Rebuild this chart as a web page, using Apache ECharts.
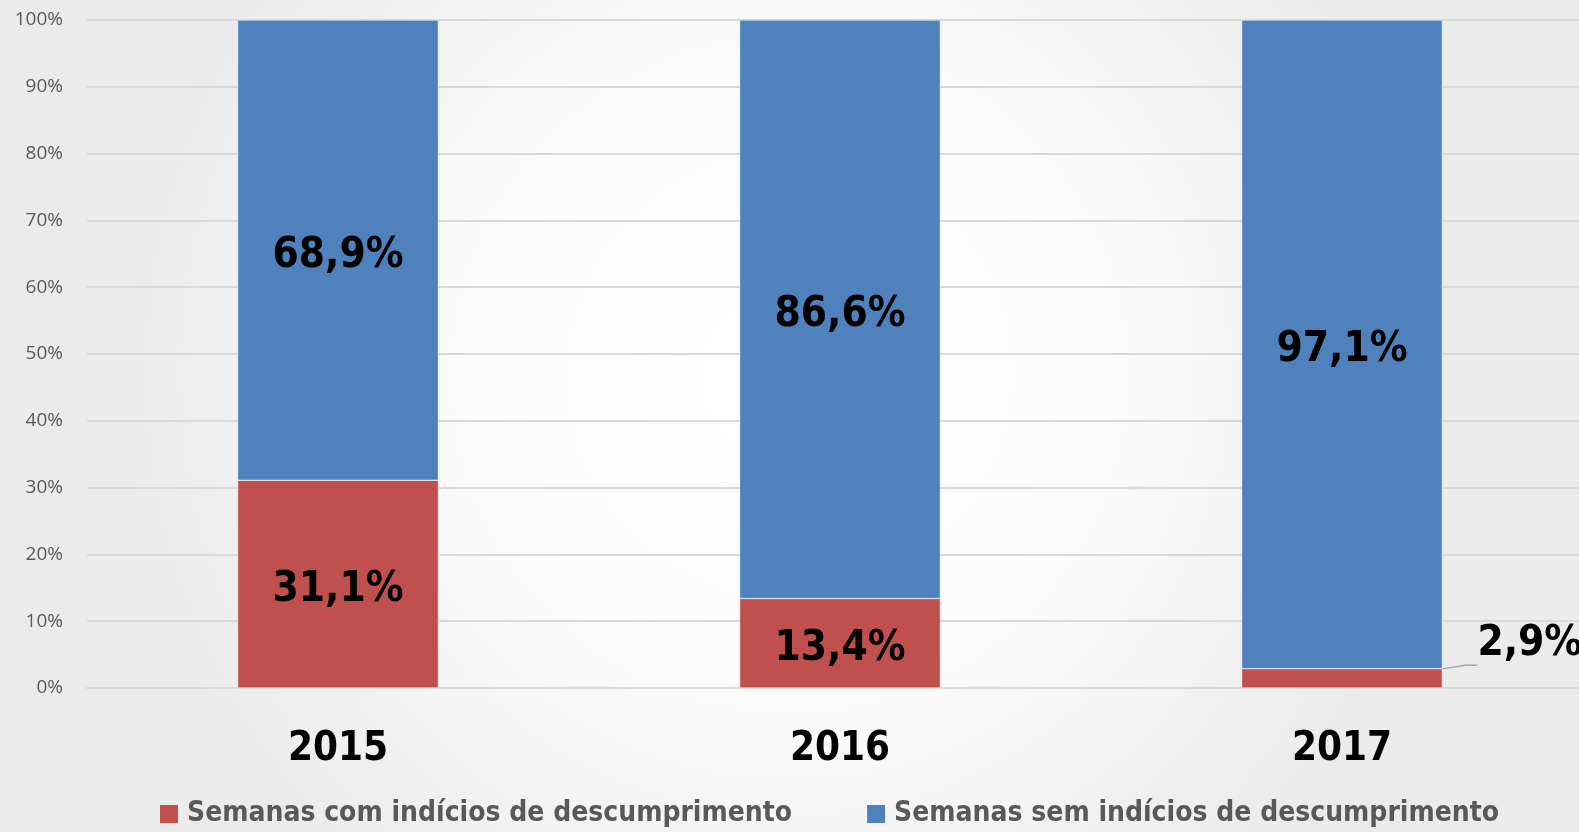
<!DOCTYPE html>
<html>
<head>
<meta charset="utf-8">
<script src="https://cdn.jsdelivr.net/npm/echarts@6/dist/echarts.min.js"></script>
<style>
  html, body { margin: 0; padding: 0; }
  #chart { width: 1579px; height: 832px; }
</style>
</head>
<body>
<div id="chart"></div>
<script>
var anos = ['2015', '2016', '2017'];
var comIndicios = [31.1, 13.4, 2.9];
var semIndicios = [68.9, 86.6, 97.1];
var nomesSeries = ['Semanas com indícios de descumprimento', 'Semanas sem indícios de descumprimento'];

var fonteEstreita = "'Liberation Sans Narrow', 'DejaVu Sans Condensed', sans-serif";

function fmt(v) {
  return v.toFixed(1).replace('.', ',') + '%';
}

var myChart = echarts.init(document.getElementById('chart'));

var dadosCom = comIndicios.map(function (v, i) {
  // o ultimo valor e pequeno demais: rotulo fora da barra com linha guia
  if (i === comIndicios.length - 1) {
    return {
      value: v,
      label: { position: 'right', offset: [30, -34] },
      labelLine: { show: true, length2: 12, lineStyle: { color: '#a6a6a6', width: 1.5 } }
    };
  }
  return v;
});

var option = {
  backgroundColor: {
    type: 'radial', x: 0.5, y: 0.45, r: 0.8,
    colorStops: [
      { offset: 0, color: '#ffffff' },
      { offset: 0.5, color: '#fbfbfb' },
      { offset: 1, color: '#ebebeb' }
    ]
  },
  animation: false,
  grid: { left: 87, width: 1506, top: 20, bottom: 144, outerBoundsMode: 'none', containLabel: false },
  legend: {
    bottom: -1,
    left: 155,
    itemWidth: 18,
    itemHeight: 18,
    itemGap: 75,
    icon: 'rect',
    itemStyle: { borderWidth: 0 },
    textStyle: { color: '#595959', fontSize: 28, fontWeight: 'bold', fontFamily: fonteEstreita, padding: [0, 0, 0, 4] },
    data: nomesSeries
  },
  xAxis: {
    type: 'category',
    data: anos,
    axisTick: { show: false },
    axisLine: { lineStyle: { color: '#d9d9d9', width: 2 } },
    axisLabel: { color: '#000', fontSize: 40, fontWeight: 'bold', fontFamily: fonteEstreita, margin: 42 }
  },
  yAxis: {
    type: 'value',
    min: 0,
    max: 100,
    interval: 10,
    axisLine: { show: false },
    axisTick: { show: false },
    splitLine: { lineStyle: { color: '#d9d9d9', width: 2 } },
    axisLabel: { color: '#595959', fontSize: 19, fontFamily: "'Open Sans', sans-serif", margin: 24, formatter: '{value}%' }
  },
  series: [
    {
      name: nomesSeries[0],
      type: 'bar',
      stack: 'total',
      barWidth: '40%',
      itemStyle: { color: '#C0504D', borderColor: '#ffffff', borderWidth: 0.5 },
      label: {
        show: true,
        position: 'inside',
        offset: [0, 6],
        color: '#000',
        fontSize: 42,
        fontWeight: 'bold',
        fontFamily: fonteEstreita,
        formatter: function (p) { return fmt(p.value); }
      },
      data: dadosCom
    },
    {
      name: nomesSeries[1],
      type: 'bar',
      stack: 'total',
      barWidth: '40%',
      itemStyle: { color: '#4F81BD', borderColor: '#ffffff', borderWidth: 0.5 },
      label: {
        show: true,
        position: 'inside',
        offset: [0, 6],
        color: '#000',
        fontSize: 42,
        fontWeight: 'bold',
        fontFamily: fonteEstreita,
        formatter: function (p) { return fmt(p.value); }
      },
      data: semIndicios
    }
  ]
};

myChart.setOption(option);
</script>
</body>
</html>
